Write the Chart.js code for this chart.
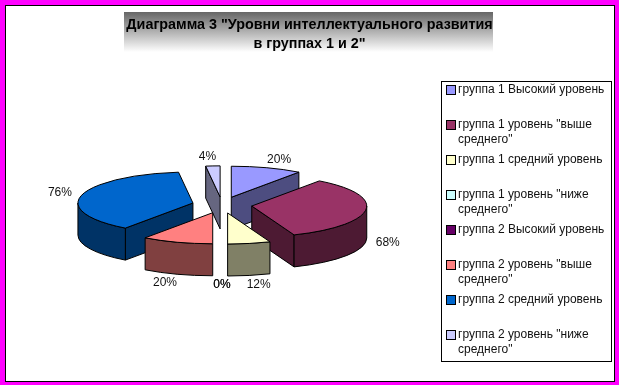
<!DOCTYPE html>
<html>
<head>
<meta charset="utf-8">
<script src="https://cdn.jsdelivr.net/npm/chart.js@4"></script>
<style>
  html, body { margin: 0; padding: 0; background: #fff; }
  canvas { display: block; }
</style>
</head>
<body>
<canvas id="myChart" width="619" height="385"></canvas>
<script>
'use strict';
const titleLines = ['Диаграмма 3 "Уровни интеллектуального развития', 'в группах 1 и 2"'];
const categories = [
  ['группа 1 Высокий уровень'],
  ['группа 1 уровень "выше', 'среднего"'],
  ['группа 1 средний уровень'],
  ['группа 1 уровень "ниже', 'среднего"'],
  ['группа 2 Высокий уровень'],
  ['группа 2 уровень "выше', 'среднего"'],
  ['группа 2 средний уровень'],
  ['группа 2 уровень "ниже', 'среднего"'],
];
const percents = [20, 68, 12, 0, 0, 20, 76, 4];
const topColors = ['#9999ff', '#993366', '#ffffcc', '#ccffff', '#660066', '#ff8080', '#0066cc', '#ccccff'];
const sideColors = ['#4d4d80', '#4d1a33', '#808066', '#668080', '#330033', '#804040', '#003366', '#666680'];

// look of the fake 3d pie
const pieX = 222;
const pieY = 205;
const squash = 0.27;
const depth = 32;
const explode = 30;
const fontName = '"Liberation Sans", Arial, sans-serif';

function slicePos(arc) {
  const mid = (arc.startAngle + arc.endAngle) / 2;
  return {
    x: pieX + Math.cos(mid) * explode,
    y: pieY + Math.sin(mid) * explode * squash,
  };
}

function drawRadialFace(ctx, pos, arc, angle, color) {
  const rx = pos.x + Math.cos(angle) * arc.outerRadius;
  const ry = pos.y + Math.sin(angle) * arc.outerRadius * squash;
  ctx.beginPath();
  ctx.moveTo(pos.x, pos.y);
  ctx.lineTo(rx, ry);
  ctx.lineTo(rx, ry + depth);
  ctx.lineTo(pos.x, pos.y + depth);
  ctx.closePath();
  ctx.fillStyle = color;
  ctx.fill();
  ctx.stroke();
}

function drawWall(ctx, pos, arc, color) {
  // only the part of the rim which faces the viewer
  const from = Math.max(arc.startAngle, 0);
  const to = Math.min(arc.endAngle, Math.PI);
  if (to <= from) return;
  const r = arc.outerRadius;
  ctx.beginPath();
  ctx.ellipse(pos.x, pos.y, r, r * squash, 0, from, to);
  ctx.ellipse(pos.x, pos.y + depth, r, r * squash, 0, to, from, true);
  ctx.closePath();
  ctx.fillStyle = color;
  ctx.fill();
  ctx.stroke();
}

function drawSlice(ctx, arc, i) {
  if (arc.endAngle - arc.startAngle < 0.001) return;
  const pos = slicePos(arc);
  ctx.strokeStyle = '#000';
  ctx.lineWidth = 1;
  if (Math.cos(arc.startAngle) < -0.001) drawRadialFace(ctx, pos, arc, arc.startAngle, sideColors[i]);
  if (Math.cos(arc.endAngle) > 0.001) drawRadialFace(ctx, pos, arc, arc.endAngle, sideColors[i]);
  drawWall(ctx, pos, arc, sideColors[i]);

  // the top is the library's own arc, flattened
  ctx.save();
  ctx.translate(pos.x, pos.y);
  ctx.scale(1, squash);
  ctx.translate(-arc.x, -arc.y);
  arc.draw(ctx);
  ctx.restore();

  const r = arc.outerRadius;
  ctx.beginPath();
  ctx.moveTo(pos.x, pos.y);
  ctx.ellipse(pos.x, pos.y, r, r * squash, 0, arc.startAngle, arc.endAngle);
  ctx.closePath();
  ctx.stroke();
}

const pie3d = {
  id: 'pie3d',
  beforeDraw(chart) {
    const ctx = chart.ctx;
    ctx.save();
    ctx.fillStyle = '#ff00ff';
    ctx.fillRect(0, 0, chart.width, chart.height);
    ctx.fillStyle = '#000';
    ctx.fillRect(5, 5, 610, 377);
    ctx.fillStyle = '#fff';
    ctx.fillRect(6, 6, 608, 375);
    const grad = ctx.createLinearGradient(0, 12, 0, 52);
    grad.addColorStop(0, '#666');
    grad.addColorStop(1, '#fff');
    ctx.fillStyle = grad;
    ctx.fillRect(124, 12, 369, 40);
    ctx.restore();
  },
  beforeDatasetsDraw(chart) {
    const ctx = chart.ctx;
    const arcs = chart.getDatasetMeta(0).data;
    // back slices first
    const order = arcs.map((arc, i) => i).sort((a, b) => {
      const midA = (arcs[a].startAngle + arcs[a].endAngle) / 2;
      const midB = (arcs[b].startAngle + arcs[b].endAngle) / 2;
      return Math.sin(midA) - Math.sin(midB);
    });
    ctx.save();
    order.forEach(i => drawSlice(ctx, arcs[i], i));
    ctx.restore();
    return false;
  },
  afterDraw(chart) {
    const ctx = chart.ctx;
    const arcs = chart.getDatasetMeta(0).data;
    ctx.save();
    ctx.fillStyle = '#111';
    ctx.font = '12px ' + fontName;
    ctx.textAlign = 'center';
    ctx.textBaseline = 'middle';
    arcs.forEach((arc, i) => {
      const mid = (arc.startAngle + arc.endAngle) / 2;
      const pos = slicePos(arc);
      const c = Math.cos(mid);
      const s = Math.sin(mid);
      const x = pos.x + c * arc.outerRadius + Math.sign(c) * Math.sqrt(Math.abs(c)) * 22;
      let y = pos.y + s * arc.outerRadius * squash + s * 9;
      if (s > 0) y += depth;
      ctx.fillText(percents[i] + '%', x, y);
    });

    // legend box
    ctx.strokeStyle = '#000';
    ctx.lineWidth = 1;
    ctx.fillStyle = '#fff';
    ctx.fillRect(441.5, 81.5, 170, 280);
    ctx.strokeRect(441.5, 81.5, 170, 280);
    ctx.textAlign = 'left';
    categories.forEach((lines, i) => {
      const y = 90 + i * 35;
      ctx.fillStyle = topColors[i];
      ctx.fillRect(446.5, y - 4.5, 9, 9);
      ctx.strokeRect(446.5, y - 4.5, 9, 9);
      ctx.fillStyle = '#111';
      lines.forEach((line, n) => ctx.fillText(line, 458, y + n * 15));
    });
    ctx.restore();
  },
};

new Chart(document.getElementById('myChart'), {
  type: 'pie',
  data: {
    labels: categories,
    datasets: [{
      data: percents,
      backgroundColor: topColors,
      borderWidth: 0,
    }],
  },
  options: {
    responsive: false,
    animation: false,
    radius: 115,
    plugins: {
      legend: { display: false },
      tooltip: { enabled: false },
      title: {
        display: true,
        text: titleLines,
        color: '#000',
        font: { family: fontName, size: 14.35, weight: 'bold', lineHeight: 1.3 },
        padding: { top: 16, bottom: 4 },
      },
    },
  },
  plugins: [pie3d],
});
</script>
</body>
</html>
